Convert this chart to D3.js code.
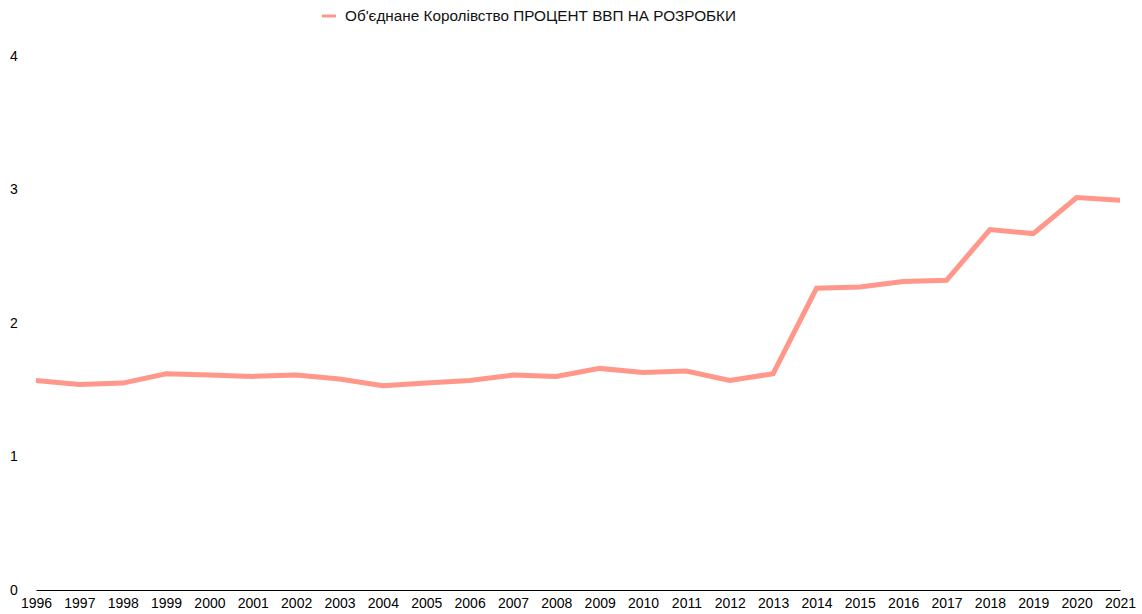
<!DOCTYPE html>
<html>
<head>
<meta charset="utf-8">
<script src="https://cdn.jsdelivr.net/npm/d3@7"></script>
<style>
  body { margin: 0; background: #fff; }
  text { font-family: "Liberation Sans", Arial, sans-serif; }
</style>
</head>
<body>
<div id="chart"></div>
<script>
var years = ["1996","1997","1998","1999","2000","2001","2002","2003","2004","2005","2006","2007","2008",
  "2009","2010","2011","2012","2013","2014","2015","2016","2017","2018","2019","2020","2021"];
var rdPercent = [1.57,1.54,1.55,1.62,1.61,1.60,1.61,1.58,1.53,1.55,1.57,1.61,1.60,
  1.66,1.63,1.64,1.57,1.62,2.26,2.27,2.31,2.32,2.70,2.67,2.94,2.92];
var yTicks = [0, 1, 2, 3, 4];
var seriesName = "Об'єднане Королівство ПРОЦЕНТ ВВП НА РОЗРОБКИ";

var svgWidth = 1142;
var svgHeight = 614;
var margin = {top: 56, right: 22, bottom: 24, left: 36};
var width = svgWidth - margin.left - margin.right;
var height = svgHeight - margin.top - margin.bottom;

var svg = d3.select("#chart").append("svg")
    .attr("width", svgWidth)
    .attr("height", svgHeight);
var chart = svg.append("g")
    .attr("transform", "translate(" + margin.left + "," + margin.top + ")");

var x = d3.scalePoint().domain(years).range([0, width]);
var y = d3.scaleLinear().domain([0, 4]).range([height, 0]);

// x axis
var xAxis = chart.append("g")
    .attr("transform", "translate(0," + height + ")")
    .call(d3.axisBottom(x).tickSize(0).tickPadding(8));
xAxis.select(".domain").attr("stroke", "#000").attr("stroke-width", 1.2);
xAxis.selectAll("text").style("font-size", "14px").attr("fill", "#000")
    .attr("font-family", "Liberation Sans, Arial, sans-serif");

// y axis labels only
var yAxis = chart.append("g")
    .call(d3.axisLeft(y).tickValues(yTicks).tickSize(0).tickPadding(0).tickFormat(d3.format("d")));
yAxis.select(".domain").remove();
yAxis.selectAll("text")
    .attr("x", -22)
    .style("text-anchor", "middle")
    .style("font-size", "14px")
    .attr("fill", "#000")
    .attr("font-family", "Liberation Sans, Arial, sans-serif");

var line = d3.line()
    .x(function(d, i) { return x(years[i]); })
    .y(function(d) { return y(d); });

chart.append("path")
    .datum(rdPercent)
    .attr("fill", "none")
    .attr("stroke", "#ff978a")
    .attr("stroke-width", 5)
    .attr("stroke-linejoin", "miter")
    .attr("d", line);

// legend
var legend = svg.append("g").attr("transform", "translate(322,16)");
legend.append("line")
    .attr("x1", 0).attr("x2", 14)
    .attr("stroke", "#ff978a").attr("stroke-width", 3);
legend.append("text")
    .attr("x", 23).attr("y", 5)
    .style("font-size", "15.3px")
    .attr("fill", "#111")
    .text(seriesName);
</script>
</body>
</html>
